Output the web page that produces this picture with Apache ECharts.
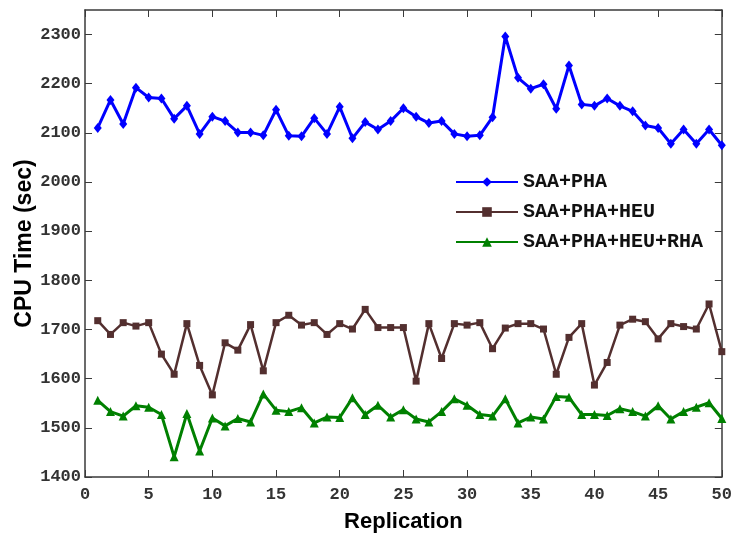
<!DOCTYPE html>
<html>
<head>
<meta charset="utf-8">
<script src="https://cdn.jsdelivr.net/npm/echarts@6/dist/echarts.min.js"></script>
<style>html,body{margin:0;padding:0;background:#fff;}#c{width:735px;height:538px;}</style>
</head>
<body>
<div id="c"></div>
<script>
const replications = Array.from({length: 50}, (_, i) => i + 1);
const seriesNames = ['SAA+PHA', 'SAA+PHA+HEU', 'SAA+PHA+HEU+RHA'];
const saaPha = [2110,2167,2118,2192,2172,2170,2129,2155,2098,2133,2124,2101,2101,2095,2147,2094,2093,2130,2098,2153,2089,2122,2107,2124,2150,2133,2120,2124,2098,2093,2095,2132,2296,2212,2190,2199,2149,2237,2158,2155,2170,2155,2144,2115,2110,2078,2107,2078,2107,2075];
const saaPhaHeu = [1718,1690,1714,1707,1714,1650,1609,1712,1627,1567,1673,1658,1710,1616,1714,1729,1709,1714,1690,1712,1701,1741,1704,1704,1704,1595,1712,1641,1712,1709,1714,1661,1703,1712,1712,1701,1609,1684,1712,1587,1633,1709,1721,1716,1681,1712,1706,1701,1752,1655];
const saaPhaHeuRha = [1556,1533,1524,1545,1542,1527,1441,1529,1453,1520,1504,1519,1512,1569,1536,1533,1541,1510,1522,1521,1561,1527,1546,1522,1537,1518,1512,1533,1559,1546,1527,1524,1559,1510,1522,1518,1564,1562,1527,1527,1525,1539,1533,1524,1545,1518,1533,1542,1551,1519];

const chart = echarts.init(document.getElementById('c'), null, {renderer: 'canvas'});
const axisColor = '#3a3a3a';
const monoLabel = {fontFamily: 'Liberation Mono', fontSize: 17, color: '#333', fontWeight: 'bold'};
const mk = (arr) => arr.map((v, i) => [replications[i], v]);
chart.setOption({
  animation: false,
  backgroundColor: '#fff',
  grid: {left: 85, right: 12, top: 10, bottom: 61},
  legend: {
    left: 450, top: 167, orient: 'vertical', itemGap: 10,
    itemWidth: 62, itemHeight: 12,
    textStyle: {fontFamily: 'Liberation Mono', fontWeight: 'bold', fontSize: 20, color: '#111'},
    data: seriesNames
  },
  xAxis: [{
    type: 'value', min: 0, max: 50, interval: 5,
    name: 'Replication', nameLocation: 'middle', nameGap: 34,
    nameTextStyle: {fontFamily: 'Liberation Sans', fontWeight: 'bold', fontSize: 22, color: '#000'},
    axisLine: {show: true, lineStyle: {color: axisColor, width: 1.5}},
    axisTick: {show: true, inside: true, length: 7, lineStyle: {color: axisColor}},
    axisLabel: Object.assign({margin: 9}, monoLabel),
    splitLine: {show: false}
  }, {
    type: 'value', position: 'top', min: 0, max: 50, interval: 5,
    axisLine: {show: true, onZero: false, lineStyle: {color: axisColor, width: 1.5}},
    axisTick: {show: true, inside: true, length: 7, lineStyle: {color: axisColor}},
    axisLabel: {show: false}, splitLine: {show: false}
  }],
  yAxis: [{
    type: 'value', min: 1400, max: 2350, interval: 100,
    name: 'CPU Time (sec)', nameLocation: 'middle', nameGap: 49, nameMoveOverlap: false,
    nameTextStyle: {fontFamily: 'Liberation Sans', fontWeight: 'bold', fontSize: 23, color: '#000'},
    axisLine: {show: true, lineStyle: {color: axisColor, width: 1.5}},
    axisTick: {show: true, inside: true, length: 7, lineStyle: {color: axisColor}},
    axisLabel: Object.assign({margin: 4, showMaxLabel: false, formatter: (v) => String(v)}, monoLabel),
    splitLine: {show: false}
  }, {
    type: 'value', position: 'right', min: 1400, max: 2350, interval: 100,
    axisLine: {show: true, onZero: false, lineStyle: {color: axisColor, width: 1.5}},
    axisTick: {show: true, inside: true, length: 7, lineStyle: {color: axisColor}},
    axisLabel: {show: false}, splitLine: {show: false}
  }],
  series: [
    {name: seriesNames[0], type: 'line', data: mk(saaPha), symbol: 'diamond', symbolSize: [8, 10],
     lineStyle: {color: '#0000ff', width: 3}, itemStyle: {color: '#0000ff'}},
    {name: seriesNames[1], type: 'line', data: mk(saaPhaHeu), symbol: 'rect', symbolSize: 7,
     lineStyle: {color: '#532f2f', width: 2.5}, itemStyle: {color: '#532f2f'}},
    {name: seriesNames[2], type: 'line', data: mk(saaPhaHeuRha), symbol: 'triangle', symbolSize: 9,
     lineStyle: {color: '#008000', width: 3}, itemStyle: {color: '#008000'}}
  ]
});
</script>
</body>
</html>
